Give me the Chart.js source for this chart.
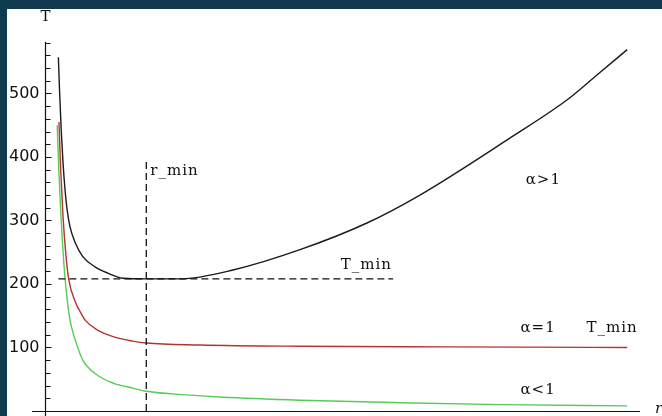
<!DOCTYPE html>
<html>
<head>
<meta charset="utf-8">
<script src="https://cdn.jsdelivr.net/npm/chart.js@4/dist/chart.umd.min.js"></script>
<style>
  html, body { margin: 0; padding: 0; width: 662px; height: 416px; overflow: hidden; background: #103b4f; }
  #panel { position: absolute; left: 7px; top: 9px; width: 655px; height: 407px; background: #ffffff; }
  canvas { display: block; }
</style>
</head>
<body>
<div id="panel"><canvas id="chart" width="655" height="407"></canvas></div>
<script>
// Temperature T as a function of r for three regimes of alpha
const rGreater = [0.23, 0.25, 0.28, 0.31, 0.34, 0.38, 0.43, 0.52, 0.65, 0.86, 1.08, 1.34, 1.74, 2.32, 3.23, 4.38, 5.53, 6.44, 7.99, 8.97, 9.48, 10.0];
const tGreater = [557, 505, 440, 391, 353, 317, 290, 265, 243, 227, 217, 209, 208, 208, 222, 254, 296, 340, 430, 490, 529, 569];

const rEqual = [0.24, 0.27, 0.31, 0.36, 0.41, 0.52, 0.60, 0.69, 0.89, 1.17, 1.51, 1.74, 2.66, 4.38, 6.96, 10.0];
const tEqual = [455, 380, 306, 245, 206, 172, 157, 143, 128, 117, 110, 107, 104, 102, 101, 100];

const rLess = [0.21, 0.24, 0.27, 0.30, 0.34, 0.38, 0.43, 0.52, 0.65, 0.89, 1.17, 1.51, 1.74, 2.49, 3.01, 4.38, 6.10, 7.82, 10.0];
const tLess = [450, 375, 315, 265, 214, 177, 143, 112, 80, 57, 44, 36, 31, 25, 22, 17, 13, 10, 8];

// Location of the minimum of the alpha>1 curve
const rMin = 1.74;
const tMin = 208;
const rMinLineTop = 398;
const tMinLineEnd = 5.98;

// Vertical axis ticks
const yTickLabels = [100, 200, 300, 400, 500];
const yMinorStep = 20;
const yTickTop = 580;

const toPoints = (xs, ys) => xs.map((x, i) => ({ x: x, y: ys[i] }));

const axesPlugin = {
  id: 'crossAxes',
  beforeDatasetsDraw(chart) {
    const { ctx, chartArea, scales: { x, y } } = chart;
    const x0 = Math.round(x.getPixelForValue(0)) + 0.5;
    const y0 = Math.round(y.getPixelForValue(0)) + 0.5;
    ctx.save();
    ctx.strokeStyle = '#111';
    ctx.lineWidth = 1.2;
    ctx.beginPath();
    ctx.moveTo(chartArea.left, y0);
    ctx.lineTo(chartArea.right, y0);
    ctx.moveTo(x0, y.getPixelForValue(yTickTop) - 1);
    ctx.lineTo(x0, chartArea.bottom);
    for (let v = yMinorStep; v <= yTickTop; v += yMinorStep) {
      const py = Math.round(y.getPixelForValue(v)) + 0.5;
      ctx.moveTo(x0, py);
      ctx.lineTo(x0 + (v % 100 === 0 ? 6 : 5), py);
    }
    ctx.stroke();

    ctx.fillStyle = '#111';
    ctx.font = '16px "DejaVu Sans"';
    ctx.textAlign = 'right';
    ctx.textBaseline = 'middle';
    yTickLabels.forEach(v => ctx.fillText(String(v), x0 - 6, y.getPixelForValue(v)));

    // axis names
    ctx.font = '15px "DejaVu Serif"';
    ctx.textAlign = 'center';
    ctx.fillText('T', x0, chartArea.top - 25);
    ctx.font = 'italic 15px "DejaVu Serif"';
    ctx.textAlign = 'left';
    ctx.fillText('r', chartArea.right + 15, y0 - 2);
    ctx.restore();
  },
  afterDatasetsDraw(chart) {
    const { ctx, scales: { x, y } } = chart;
    const put = (text, rx, ty, align, dx) => {
      ctx.textAlign = align;
      ctx.fillText(text, x.getPixelForValue(rx) + (dx || 0), y.getPixelForValue(ty));
    };
    ctx.save();
    ctx.fillStyle = '#111';
    ctx.textBaseline = 'middle';
    ctx.font = '15px "DejaVu Serif"';
    ctx.letterSpacing = '1px';
    put('r_min', rMin, 378, 'left', 4);
    put('T_min', 5.52, 230, 'center');
    put('α>1', 8.56, 364, 'center');
    put('α=1', 8.47, 131, 'center');
    put('T_min', 9.74, 131, 'center');
    put('α<1', 8.47, 33, 'center');
    ctx.restore();
  }
};

const curve = (data, color) => ({
  data: data,
  borderColor: color,
  borderWidth: 1.4,
  pointRadius: 0,
  cubicInterpolationMode: 'monotone',
  fill: false
});

const guide = (data) => ({
  data: data,
  borderColor: '#111',
  borderWidth: 1.3,
  borderDash: [7, 4],
  pointRadius: 0,
  tension: 0,
  fill: false
});

new Chart(document.getElementById('chart'), {
  type: 'line',
  data: {
    datasets: [
      guide([{ x: rGreater[0], y: tMin }, { x: tMinLineEnd, y: tMin }]),
      guide([{ x: rMin, y: 0 }, { x: rMin, y: rMinLineTop }]),
      curve(toPoints(rGreater, tGreater), '#1a1a1a'),
      curve(toPoints(rEqual, tEqual), '#b8332f'),
      curve(toPoints(rLess, tLess), '#55cc55')
    ]
  },
  options: {
    responsive: false,
    animation: false,
    layout: { padding: { left: 25, right: 22, top: 33, bottom: 0 } },
    plugins: { legend: { display: false }, tooltip: { enabled: false } },
    scales: {
      x: { type: 'linear', min: -0.223, max: 10.22, display: false },
      y: { type: 'linear', min: -7.9, max: 581, display: false }
    }
  },
  plugins: [axesPlugin]
});
</script>
</body>
</html>
